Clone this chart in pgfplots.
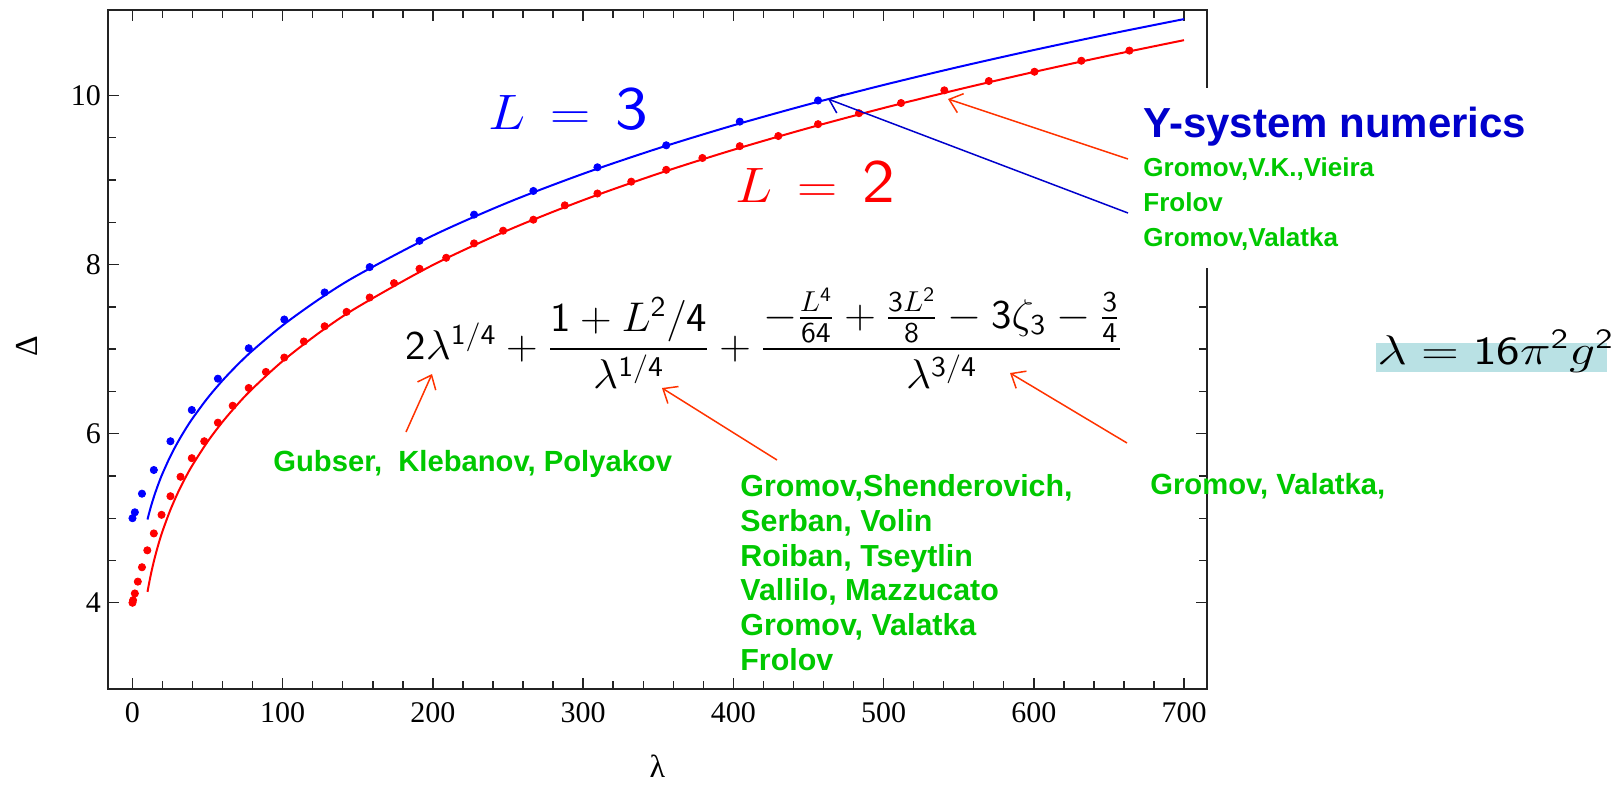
\documentclass[border=0pt]{standalone}
\usepackage{amsmath}
\usepackage{fontspec}
\usepackage{graphicx}
\usepackage{pgfplots}
\usepackage{pgfplotstable}
\pgfplotsset{compat=1.18}
\usetikzlibrary{arrows.meta}

\newfontfamily\tnr{Liberation Serif}
\newfontfamily\arial{Liberation Sans}

\definecolor{ann}{RGB}{0,200,0}
\definecolor{ysys}{RGB}{0,0,204}
\definecolor{arr}{RGB}{255,51,0}
\definecolor{boxbg}{RGB}{185,225,228}
\definecolor{framec}{RGB}{35,35,35}

% Y-system numerics, L = 3 (lambda = 16 pi^2 g^2, g = 0, 0.1, ..., 1.7)
\pgfplotstableread{
lambda Delta
0      5.00
1.58   5.07
6.32   5.29
14.21  5.57
25.27  5.91
39.48  6.28
56.85  6.65
77.38  7.01
101.06 7.35
127.91 7.67
157.91 7.97
191.07 8.28
227.39 8.59
266.87 8.87
309.51 9.15
355.31 9.41
404.26 9.69
456.37 9.94
}\numthree

% Y-system numerics, L = 2 (g = 0, 0.05, ..., 2.05)
\pgfplotstableread{
lambda Delta
0      4.00
0.39   4.03
1.58   4.11
3.55   4.25
6.32   4.42
9.87   4.62
14.21  4.82
19.34  5.04
25.27  5.26
31.98  5.49
39.48  5.71
47.77  5.91
56.85  6.13
66.72  6.33
77.38  6.54
88.83  6.73
101.06 6.90
114.09 7.09
127.91 7.27
142.51 7.44
157.91 7.61
174.10 7.78
191.07 7.95
208.84 8.08
227.39 8.25
246.74 8.40
266.87 8.53
287.80 8.70
309.51 8.84
332.02 8.98
355.31 9.12
379.39 9.26
404.26 9.40
429.92 9.52
456.37 9.66
483.61 9.79
511.63 9.91
540.45 10.06
570.06 10.17
600.45 10.28
631.65 10.41
663.63 10.53
}\numtwo

% strong coupling expansion, tabulated
\pgfplotstableread{
lambda L2       L3
10     4.12887  4.98462
11     4.22626  5.05492
12     4.31522  5.12011
13     4.39724  5.18106
15     4.54471  5.29263
17.5   4.70543  5.41702
20     4.84678  5.52874
25     5.08875  5.72462
30     5.29295  5.89410
35     5.47100  6.04464
40     5.62972  6.18079
50     5.90522  6.42101
60     6.14085  6.62984
70     6.34811  6.81577
80     6.53399  6.98409
100    6.85879  7.28125
125    7.20245  7.59928
150    7.49830  7.87553
200    7.99462  8.34317
250    8.40626  8.73429
300    8.76105  9.07332
350    9.07462  9.37424
400    9.35676  9.64588
450    9.61401  9.89420
500    9.85098  10.12345
550    10.07110 10.33679
600    10.27696 10.53662
650    10.47051 10.72475
700    10.65336 10.90270
}\asym

\begin{document}
\begin{tikzpicture}
\useasboundingbox (0,0) rectangle (812pt,-392pt);
\begin{axis}[
  at={(54pt,-344.5pt)}, anchor=south west,
  scale only axis, width=549.5pt, height=339.5pt,
  xmin=-16.3, xmax=715.3, ymin=2.98, ymax=11.01,
  xtick={0,100,...,700}, minor x tick num=4,
  ytick={4,6,8,10}, minor y tick num=3,
  tick align=inside,
  major tick length=5.5pt, minor tick length=4pt,
  axis line style={framec, line width=0.9pt},
  tick style={framec, line width=0.7pt},
  /pgf/number format/assume math mode=true,
  xticklabel style={font=\tnr\fontsize{15}{15}\selectfont, yshift=-3pt},
  yticklabel style={font=\tnr\fontsize{15}{15}\selectfont},
  xlabel={λ}, ylabel={Δ},
  label style={font=\tnr\fontsize{16}{16}\selectfont},
  xlabel style={at={(axis description cs:0.5,-0.114)}, anchor=center},
  ylabel style={at={(axis description cs:-0.0737,0.505)}, anchor=center},
  clip=false,
]
\addplot[blue, line width=1pt, smooth, no marks] table[x=lambda, y=L3]{\asym};
\addplot[red, line width=1pt, smooth, no marks] table[x=lambda, y=L2]{\asym};
\addplot[only marks, mark=*, mark size=1.8pt, blue, mark options={draw=blue, fill=blue}] table[x=lambda, y=Delta]{\numthree};
\addplot[only marks, mark=*, mark size=1.8pt, red, mark options={draw=red, fill=red}] table[x=lambda, y=Delta]{\numtwo};
\end{axis}

\begin{scope}[x=0.5pt, y=-0.5pt]
  % pointers
  \draw[arr, line width=0.75pt, -{Straight Barb[length=6pt, width=10pt]}] (1128,159) -- (948,99);
  \draw[blue!80!black, line width=0.75pt, -{Straight Barb[length=6pt, width=10pt]}] (1128,213) -- (828,99);
  \draw[arr, line width=0.75pt, -{Straight Barb[length=6pt, width=10pt]}] (406,432) -- (432,374);
  \draw[arr, line width=0.75pt, -{Straight Barb[length=6pt, width=10pt]}] (777,460) -- (662,388);
  \draw[arr, line width=0.75pt, -{Straight Barb[length=6pt, width=10pt]}] (1127,443) -- (1010,373);

  % white panel behind the numerics credits
  \fill[white] (1130,88) rectangle (1560,268);

  % curve labels
  \node[blue, font=\fontsize{31}{34}\selectfont, inner sep=0pt] at (568,109)
    {\scalebox{1.12}[1]{$L\mskip3mu=\mskip3mu\mathsf{3}$}};
  \node[red, font=\fontsize{31}{34}\selectfont, inner sep=0pt] at (815,182)
    {\scalebox{1.12}[1]{$L\mskip3mu=\mskip3mu\mathsf{2}$}};

  % strong coupling expansion
  \node[anchor=west, inner sep=0pt, font=\fontsize{20.5}{24}\selectfont] at (405,338)
    {\scalebox{1.057}[1]{$\mathsf{2}\lambda^{\mathsf{1/4}}+\dfrac{\mathsf{1}+L^{\mathsf{2}}/\mathsf{4}}{\lambda^{\mathsf{1/4}}}
      +\dfrac{-\frac{L^{\mathsf{4}}}{\mathsf{64}}+\frac{\mathsf{3}L^{\mathsf{2}}}{\mathsf{8}}-\mathsf{3}\zeta_{\mathsf{3}}-\frac{\mathsf{3}}{\mathsf{4}}}{\lambda^{\mathsf{3/4}}}$}};

  % references
  \begin{scope}[every node/.style={anchor=base west, inner sep=0pt, text=ann, font=\arial\bfseries\fontsize{14.6}{17}\selectfont}]
    \node at (273,471) {Gubser,\ \ Klebanov, Polyakov};
    \node at (1150,494) {Gromov, Valatka,};
  \end{scope}
  \begin{scope}[every node/.style={anchor=base west, inner sep=0pt, text=ann, font=\arial\bfseries\fontsize{15.2}{17}\selectfont}]
    \node at (740,496.4) {Gromov,Shenderovich,};
    \node at (740,531.2) {Serban, Volin};
    \node at (740,566.0) {Roiban, Tseytlin};
    \node at (740,600.8) {Vallilo, Mazzucato};
    \node at (740,635.6) {Gromov, Valatka};
    \node at (740,670.4) {Frolov};
  \end{scope}

  \node[anchor=base west, inner sep=0pt, text=ysys, font=\arial\bfseries\fontsize{21}{24}\selectfont] at (1143,137) {Y-system numerics};
  \begin{scope}[every node/.style={anchor=base west, inner sep=0pt, text=ann, font=\arial\bfseries\fontsize{13}{15}\selectfont}]
    \node at (1143,176) {Gromov,V.K.,Vieira};
    \node at (1143,211) {Frolov};
    \node at (1143,246) {Gromov,Valatka};
  \end{scope}

  % coupling
  \fill[boxbg] (1376,343) rectangle (1607,372);
  \node[anchor=base west, inner sep=0pt, font=\fontsize{20}{24}\selectfont] at (1377,364)
    {\scalebox{1.25}[1]{$\lambda=\mathsf{16}\pi^{\mathsf{2}}g^{\mathsf{2}}$}};
\end{scope}
\end{tikzpicture}
\end{document}
